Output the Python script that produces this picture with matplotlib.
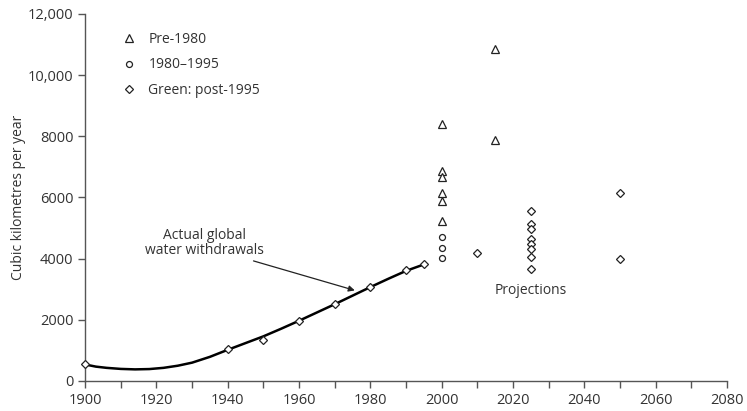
import matplotlib
matplotlib.use("Agg")
import matplotlib.pyplot as plt
from matplotlib.lines import Line2D
from matplotlib.ticker import FuncFormatter, MultipleLocator

# observed global withdrawals (km3/yr)
actual_years = [1900, 1940, 1950, 1960, 1970, 1980, 1990, 1995]
actual_values = [550, 1040, 1330, 1970, 2520, 3080, 3620, 3810]

# smoothed trend line through the observations
trend_years = [1900, 1903, 1906, 1910, 1914, 1918, 1922, 1926, 1930, 1935,
               1940, 1945, 1950, 1955, 1960, 1965, 1970, 1975, 1980, 1985,
               1990, 1995]
trend_values = [540, 470, 430, 395, 380, 390, 430, 500, 600, 790,
                1020, 1240, 1460, 1710, 1970, 2240, 2510, 2790, 3070, 3340,
                3600, 3810]

# projections made before 1980
pre1980_years = [2000, 2000, 2000, 2000, 2000, 2000, 2015, 2015]
pre1980_values = [8400, 6880, 6680, 6150, 5900, 5220, 10850, 7890]

# projections made 1980-1995
mid_years = [2000, 2000, 2000]
mid_values = [4700, 4350, 4010]

# projections made after 1995
post_years = [2010, 2025, 2025, 2025, 2025, 2025, 2025, 2025, 2025, 2050, 2050]
post_values = [4170, 5550, 5120, 4960, 4640, 4490, 4300, 4070, 3670, 6150, 4000]

legend_labels = ["Pre-1980", "1980\u20131995", "Green: post-1995"]

plt.rcParams["font.family"] = ["Open Sans", "DejaVu Sans"]
text_color = "#333333"
axis_color = "#555555"

fig = plt.figure(figsize=(7.47, 4.11), dpi=100)
ax = fig.add_axes([0.114, 0.073, 0.859, 0.893])

ax.plot(trend_years, trend_values, color="black", lw=1.8, zorder=2)

mk = dict(linestyle="none", markerfacecolor="white", markeredgecolor="#222222",
          markeredgewidth=0.9, zorder=3, clip_on=False)
tri = dict(marker="^", markersize=5.6)
circ = dict(marker="o", markersize=4.3)
dia = dict(marker="D", markersize=4.2)

ax.plot(actual_years, actual_values, **dia, **mk)
ax.plot(pre1980_years, pre1980_values, **tri, **mk)
ax.plot(mid_years, mid_values, **circ, **mk)
ax.plot(post_years, post_values, **dia, **mk)

handles = [Line2D([], [], **tri, **mk),
           Line2D([], [], **circ, **mk),
           Line2D([], [], **dia, **mk)]
leg = ax.legend(handles, legend_labels, loc="upper left",
                bbox_to_anchor=(0.038, 0.985), frameon=False,
                fontsize=10, labelspacing=0.75, handlelength=1.0,
                handletextpad=0.9, labelcolor=text_color)

ax.annotate("Actual global\nwater withdrawals", xy=(1976, 2950),
            xytext=(1933.5, 4520), ha="center", va="center",
            fontsize=10, color=text_color, linespacing=1.0,
            arrowprops=dict(arrowstyle="-|>", color="#222222", lw=0.9,
                            mutation_scale=9, relpos=(0.82, 0.0),
                            shrinkA=1, shrinkB=1))
ax.text(2025, 2950, "Projections", ha="center", va="center",
        fontsize=10, color=text_color)

ax.set_xlim(1900, 2080)
ax.set_ylim(0, 12000)
ax.xaxis.set_major_locator(MultipleLocator(20))
ax.xaxis.set_minor_locator(MultipleLocator(10))
ax.yaxis.set_major_locator(MultipleLocator(2000))
ax.yaxis.set_major_formatter(
    FuncFormatter(lambda v, _: f"{int(v):,}" if v >= 10000 else f"{int(v)}"))

ax.set_ylabel("Cubic kilometres per year", fontsize=10, color=text_color,
              labelpad=1)

for side in ("top", "right"):
    ax.spines[side].set_visible(False)
for side in ("left", "bottom"):
    ax.spines[side].set_color(axis_color)
    ax.spines[side].set_linewidth(1.0)

ax.tick_params(which="both", direction="out", length=5, width=1.0,
               color=axis_color, labelcolor=text_color, labelsize=10.5)
ax.tick_params(axis="x", pad=4)
ax.patch.set_visible(False)

fig.savefig("out.png", dpi=100)
